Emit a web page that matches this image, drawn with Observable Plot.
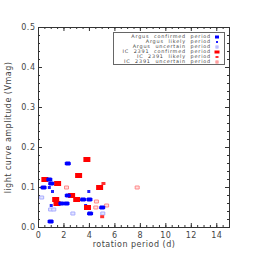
<!DOCTYPE html>
<html><head><meta charset="utf-8">
<script src="https://cdn.jsdelivr.net/npm/d3@7"></script>
<script src="https://cdn.jsdelivr.net/npm/@observablehq/plot@0.6"></script>
<style>
body{margin:0;background:#fff;}
#wrap{position:relative;width:255px;height:255px;font-family:"DejaVu Sans",sans-serif;}
#legend{position:absolute;left:113px;top:32px;width:112px;height:33px;border:1px solid #666;background:#fff;box-sizing:border-box;padding-top:1px;}
.row{height:5.1px;line-height:5.1px;font-size:4.9px;color:#444;text-align:right;padding-right:13px;position:relative;white-space:pre;letter-spacing:0.8px;}
.sym{position:absolute;top:50%;transform:translate(-50%,-50%);left:103px;}
</style>
</head><body>
<div id="wrap"><div id="chart"></div><div id="legend"></div></div>
<script>
// Data (rotation period in days, amplitude in Vmag)
const argusConfirmedP = [2.3, 0.85, 0.4, 1.0, 2.3, 3.5, 4.0, 1.8, 2.2, 0.95, 5.0, 4.05];
const argusConfirmedA = [0.16, 0.12, 0.10, 0.11, 0.08, 0.07, 0.07, 0.06, 0.06, 0.015, 0.05, 0.035];
const argusLikelyP = [0.85, 1.1, 1.0, 3.95, 3.7];
const argusLikelyA = [0.10, 0.09, 0.055, 0.09, 0.055];
const argusUncertainP = [0.25, 0.95, 1.2, 2.7, 5.05];
const argusUncertainA = [0.075, 0.045, 0.045, 0.035, 0.035];
const icConfirmedP = [3.8, 3.15, 0.5, 1.5, 4.8, 1.35, 2.6, 3.0, 1.45, 3.85];
const icConfirmedA = [0.17, 0.13, 0.12, 0.11, 0.10, 0.07, 0.08, 0.07, 0.06, 0.05];
const icLikelyP = [5.1, 5.0];
const icLikelyA = [0.11, 0.027];
const icUncertainP = [2.2, 4.55, 4.5, 5.35, 7.75];
const icUncertainA = [0.10, 0.065, 0.05, 0.055, 0.10];
const legendLabels = ["Argus  confirmed  period","Argus  likely  period","Argus  uncertain  period","IC  2391  confirmed  period","IC  2391  likely  period","IC  2391  uncertain  period"];
const xMajor = [0,2,4,6,8,10,12,14];
const xMinor = d3.range(0, 15.01, 0.5);
const yMajor = [0,0.1,0.2,0.3,0.4,0.5];
const yMinor = d3.range(0, 0.501, 0.02);

const zip = (p, a) => p.map((v, i) => ({p: v, a: a[i]}));
const rectSym = (w, h) => ({draw(ctx){ ctx.rect(-w/2, -h/2, w, h); }});
const ovalSym = (w, h) => ({draw(ctx){
  const a = w/2, b = h/2, c = 1;
  ctx.moveTo(-a + c, -b); ctx.lineTo(a - c, -b); ctx.lineTo(a, -b + c); ctx.lineTo(a, b - c);
  ctx.lineTo(a - c, b); ctx.lineTo(-a + c, b); ctx.lineTo(-a, b - c); ctx.lineTo(-a, -b + c); ctx.closePath();
}});

const W = 255, H = 255, mL = 38, mR = 26, mT = 27, mB = 28;
const fw = W - mL - mR, fh = H - mT - mB;
const tc = "#444";

const series = [
  {data: zip(argusUncertainP, argusUncertainA), sym: rectSym(4,3), fill: "#e4e6ff", stroke: "#a9adff"},
  {data: zip(icUncertainP, icUncertainA), sym: rectSym(4,3), fill: "#ffe0e0", stroke: "#ff8a8a"},
  {data: zip(argusLikelyP, argusLikelyA), sym: rectSym(3,3), fill: "#2020ff", stroke: "none"},
  {data: zip(icLikelyP, icLikelyA), sym: rectSym(4,3), fill: "#ff3030", stroke: "none"},
  {data: zip(icConfirmedP, icConfirmedA), sym: rectSym(7,5), fill: "#ff0000", stroke: "none"},
  {data: zip(argusConfirmedP, argusConfirmedA), sym: ovalSym(6,4), fill: "#0000ff", stroke: "none"}
];

const chart = Plot.plot({
  width: W, height: H,
  marginLeft: mL, marginRight: mR, marginTop: mT, marginBottom: mB,
  style: {fontFamily: "DejaVu Sans, sans-serif", fontSize: "8px", color: tc, letterSpacing: "0.5px"},
  x: {domain: [0, 15]},
  y: {domain: [0, 0.5]},
  marks: [
    Plot.axisX({ticks: xMajor, tickSize: 0, tickPadding: 5, tickFormat: d => d, fill: tc, label: null}),
    Plot.axisX({ticks: [], tickSize: 0, fill: tc,
      label: "rotation period (d)", labelAnchor: "center", labelArrow: "none", labelOffset: 19, dx: -8, style: {letterSpacing: "1px"}}),
    Plot.axisY({ticks: yMajor, tickSize: 0, tickPadding: 3, tickFormat: d3.format(".1f"), fill: tc,
      label: "light curve amplitude (Vmag)", labelAnchor: "center", labelArrow: "none", labelOffset: 33}),
    // inward ticks on all four sides
    Plot.ruleX(xMajor, {insetTop: fh - 4, stroke: "#333"}),
    Plot.ruleX(xMinor, {insetTop: fh - 2, stroke: "#333"}),
    Plot.ruleX(xMajor, {insetBottom: fh - 4, stroke: "#333"}),
    Plot.ruleX(xMinor, {insetBottom: fh - 2, stroke: "#333"}),
    Plot.ruleY(yMajor, {insetRight: fw - 4, stroke: "#333"}),
    Plot.ruleY(yMinor, {insetRight: fw - 2, stroke: "#333"}),
    Plot.ruleY(yMajor, {insetLeft: fw - 4, stroke: "#333"}),
    Plot.ruleY(yMinor, {insetLeft: fw - 2, stroke: "#333"}),
    Plot.frame({stroke: "#333"}),
    ...series.map(s => Plot.dot(s.data, {x: "p", y: "a", symbol: s.sym, fill: s.fill, stroke: s.stroke, strokeWidth: 1}))
  ]
});
document.getElementById("chart").appendChild(chart);

// Legend
const legendSyms = [
  {w:4,h:3,fill:"#0000ff",stroke:"none"},
  {w:2,h:2,fill:"#2020ff",stroke:"none"},
  {w:3,h:3,fill:"#eef",stroke:"#a9adff"},
  {w:5,h:3,fill:"#ff0000",stroke:"none"},
  {w:3,h:2,fill:"#ff3030",stroke:"none"},
  {w:3,h:3,fill:"#ffe0e0",stroke:"#ff8a8a"}
];
const leg = document.getElementById("legend");
legendLabels.forEach((t, i) => {
  const r = document.createElement("div"); r.className = "row"; r.textContent = t;
  const s = document.createElement("span"); s.className = "sym";
  const L = legendSyms[i];
  s.style.width = L.w + "px"; s.style.height = L.h + "px"; s.style.background = L.fill;
  s.style.boxSizing = "border-box";
  if (L.stroke !== "none") s.style.border = "1px solid " + L.stroke;
  r.appendChild(s); leg.appendChild(r);
});
</script>
</body></html>
